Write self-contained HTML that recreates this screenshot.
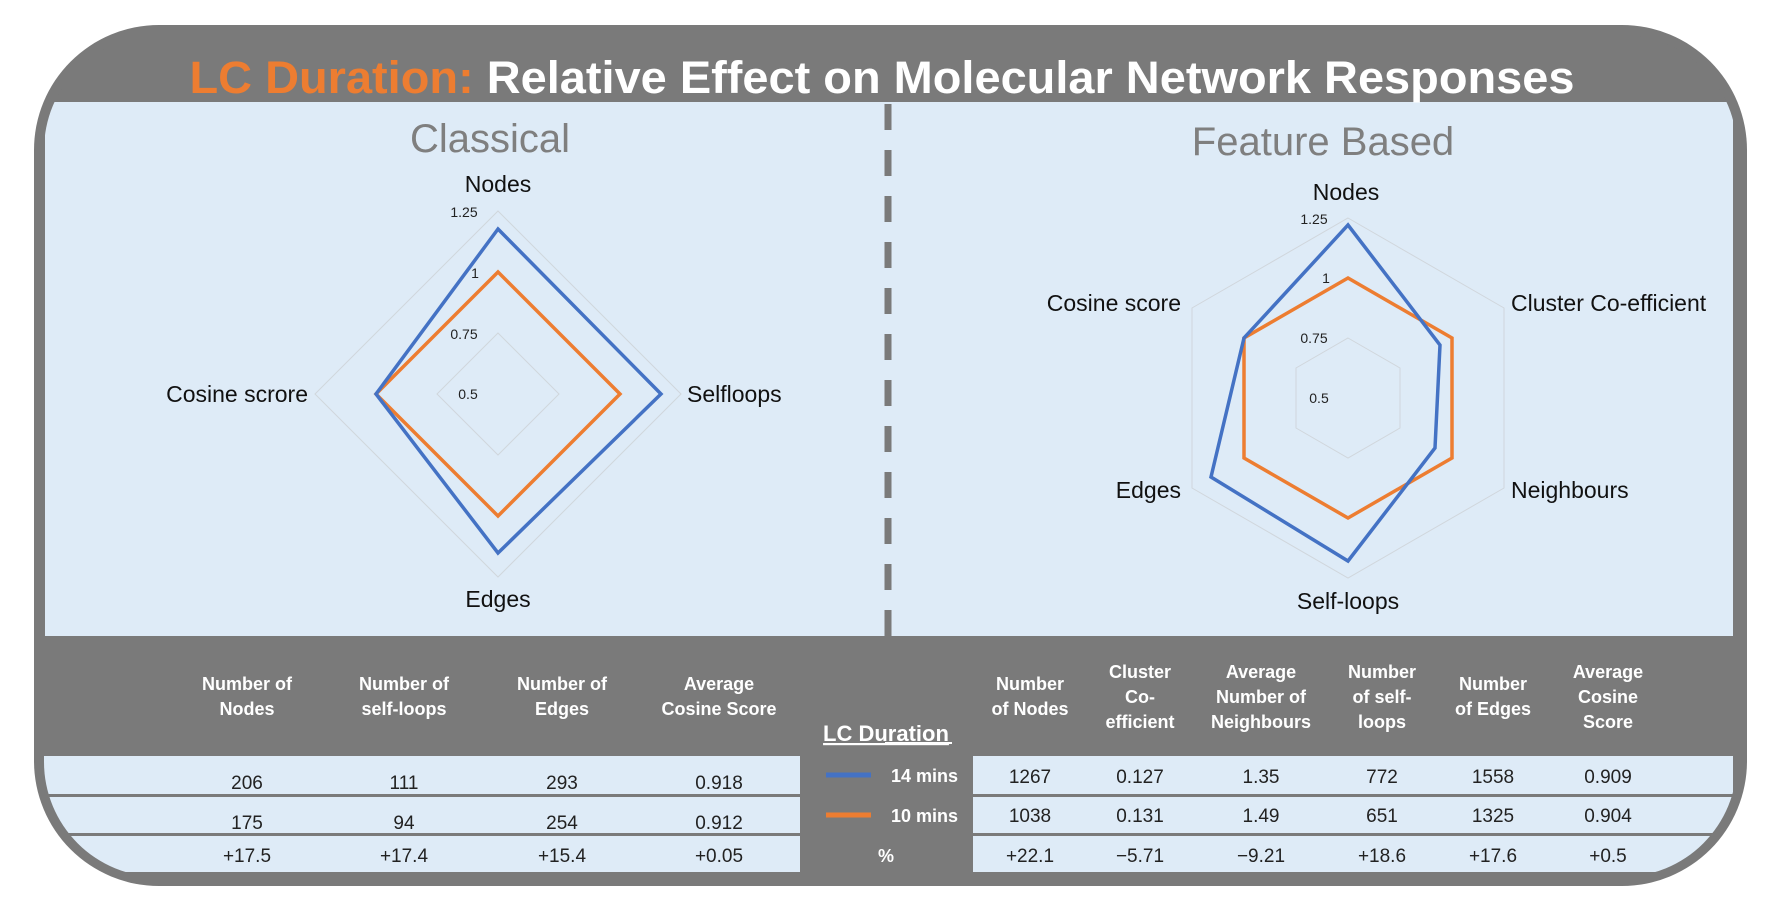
<!DOCTYPE html>
<html><head><meta charset="utf-8"><style>
html,body{margin:0;padding:0;background:#fff;width:1774px;height:906px;overflow:hidden}
svg{display:block}
text{font-family:"Liberation Sans Narrow","Liberation Sans",sans-serif}
</style></head><body>
<svg width="1774" height="906" viewBox="0 0 1774 906" xmlns="http://www.w3.org/2000/svg">
<defs><clipPath id="c"><rect x="44" y="35" width="1693" height="842" rx="115" ry="115"/></clipPath></defs>
<rect x="34" y="25" width="1713" height="861" rx="125" ry="125" fill="#7a7a7a"/>
<g clip-path="url(#c)">
<rect x="44" y="35" width="1693" height="842" fill="#7a7a7a"/>
<rect x="45" y="102" width="1688" height="534" fill="#deebf7"/>
<!-- table rows -->
<g fill="#deebf7">
<rect x="40" y="756" width="760" height="38"/><rect x="40" y="797" width="760" height="36"/><rect x="40" y="836" width="760" height="36"/>
<rect x="973" y="756" width="760" height="38"/><rect x="973" y="797" width="760" height="36"/><rect x="973" y="836" width="760" height="36"/>
</g>
</g>
<!-- divider -->
<line x1="888" y1="104" x2="888" y2="636" stroke="#7a7a7a" stroke-width="7" stroke-dasharray="26 20"/>
<!-- title -->
<text x="882" y="93" text-anchor="middle" font-size="45" font-weight="bold" textLength="1385" lengthAdjust="spacingAndGlyphs" style="font-family:'Liberation Sans',sans-serif"><tspan fill="#ed7d31">LC Duration:</tspan><tspan fill="#fff"> Relative Effect on Molecular Network Responses</tspan></text>
<g fill="#7f7f7f" font-size="40" text-anchor="middle">
<text x="490" y="152">Classical</text><text x="1323" y="155">Feature Based</text></g>
<!-- classical radar -->
<g fill="none" stroke="#d0d6dc" stroke-width="1">
<polygon points="498,333 559,394 498,455 437,394"/>
<polygon points="498,272 620,394 498,516 376,394"/>
<polygon points="498,211 681,394 498,577 315,394"/>
</g>
<polygon points="498,272 620,394 498,516 376,394" fill="none" stroke="#ed7d31" stroke-width="3.5"/>
<polygon points="498,229 661,394 498,553 376,394" fill="none" stroke="#4472c4" stroke-width="3.5"/>
<g font-size="14" fill="#222" text-anchor="middle">
<text x="464" y="217">1.25</text><text x="475" y="278">1</text><text x="464" y="339">0.75</text><text x="468" y="399">0.5</text>
<text x="1314" y="224">1.25</text><text x="1326" y="283">1</text><text x="1314" y="343">0.75</text><text x="1319" y="403">0.5</text>
</g>
<g font-size="23" fill="#111">
<text x="498" y="192" text-anchor="middle">Nodes</text>
<text x="687" y="402">Selfloops</text>
<text x="308" y="402" text-anchor="end">Cosine scrore</text>
<text x="498" y="607" text-anchor="middle">Edges</text>
<text x="1346" y="200" text-anchor="middle">Nodes</text>
<text x="1511" y="311">Cluster Co-efficient</text>
<text x="1511" y="498">Neighbours</text>
<text x="1348" y="609" text-anchor="middle">Self-loops</text>
<text x="1181" y="498" text-anchor="end">Edges</text>
<text x="1181" y="311" text-anchor="end">Cosine score</text>
</g>
<!-- feature radar -->
<g fill="none" stroke="#d0d6dc" stroke-width="1">
<polygon points="1348,338 1400,368 1400,428 1348,458 1296,428 1296,368"/>
<polygon points="1348,278 1452,338 1452,458 1348,518 1244,458 1244,338"/>
<polygon points="1348,218 1504,308 1504,488 1348,578 1192,488 1192,308"/>
</g>
<polygon points="1348,278 1452,338 1452,458 1348,518 1244,458 1244,338" fill="none" stroke="#ed7d31" stroke-width="3.5"/>
<polygon points="1348,225 1440,345 1435,448 1348,561 1211,477 1244,338" fill="none" stroke="#4472c4" stroke-width="3.5"/>
<!-- table headers -->
<g fill="#fff" font-size="18" font-weight="bold" text-anchor="middle">
<text x="247" y="690">Number of</text><text x="247" y="715">Nodes</text>
<text x="404" y="690">Number of</text><text x="404" y="715">self-loops</text>
<text x="562" y="690">Number of</text><text x="562" y="715">Edges</text>
<text x="719" y="690">Average</text><text x="719" y="715">Cosine Score</text>
<text x="1030" y="690">Number</text><text x="1030" y="715">of Nodes</text>
<text x="1140" y="678">Cluster</text><text x="1140" y="703">Co-</text><text x="1140" y="728">efficient</text>
<text x="1261" y="678">Average</text><text x="1261" y="703">Number of</text><text x="1261" y="728">Neighbours</text>
<text x="1382" y="678">Number</text><text x="1382" y="703">of self-</text><text x="1382" y="728">loops</text>
<text x="1493" y="690">Number</text><text x="1493" y="715">of Edges</text>
<text x="1608" y="678">Average</text><text x="1608" y="703">Cosine</text><text x="1608" y="728">Score</text>
<text x="886" y="741" font-size="22" text-decoration="underline">LC Duration</text>
<text x="958" y="782" text-anchor="end">14 mins</text>
<text x="958" y="822" text-anchor="end">10 mins</text>
<text x="886" y="862">%</text>
</g>
<line x1="885" y1="743" x2="952" y2="743" stroke="#fff" stroke-width="2"/>
<line x1="826" y1="775" x2="871" y2="775" stroke="#4472c4" stroke-width="5"/>
<line x1="826" y1="815" x2="871" y2="815" stroke="#ed7d31" stroke-width="5"/>
<g fill="#222" font-size="19" text-anchor="middle">
<text x="247" y="789">206</text><text x="404" y="789">111</text><text x="562" y="789">293</text><text x="719" y="789">0.918</text>
<text x="247" y="829">175</text><text x="404" y="829">94</text><text x="562" y="829">254</text><text x="719" y="829">0.912</text>
<text x="247" y="862">+17.5</text><text x="404" y="862">+17.4</text><text x="562" y="862">+15.4</text><text x="719" y="862">+0.05</text>
<text x="1030" y="783">1267</text><text x="1140" y="783">0.127</text><text x="1261" y="783">1.35</text><text x="1382" y="783">772</text><text x="1493" y="783">1558</text><text x="1608" y="783">0.909</text>
<text x="1030" y="822">1038</text><text x="1140" y="822">0.131</text><text x="1261" y="822">1.49</text><text x="1382" y="822">651</text><text x="1493" y="822">1325</text><text x="1608" y="822">0.904</text>
<text x="1030" y="862">+22.1</text><text x="1140" y="862">−5.71</text><text x="1261" y="862">−9.21</text><text x="1382" y="862">+18.6</text><text x="1493" y="862">+17.6</text><text x="1608" y="862">+0.5</text>
</g>
</svg>
</body></html>
